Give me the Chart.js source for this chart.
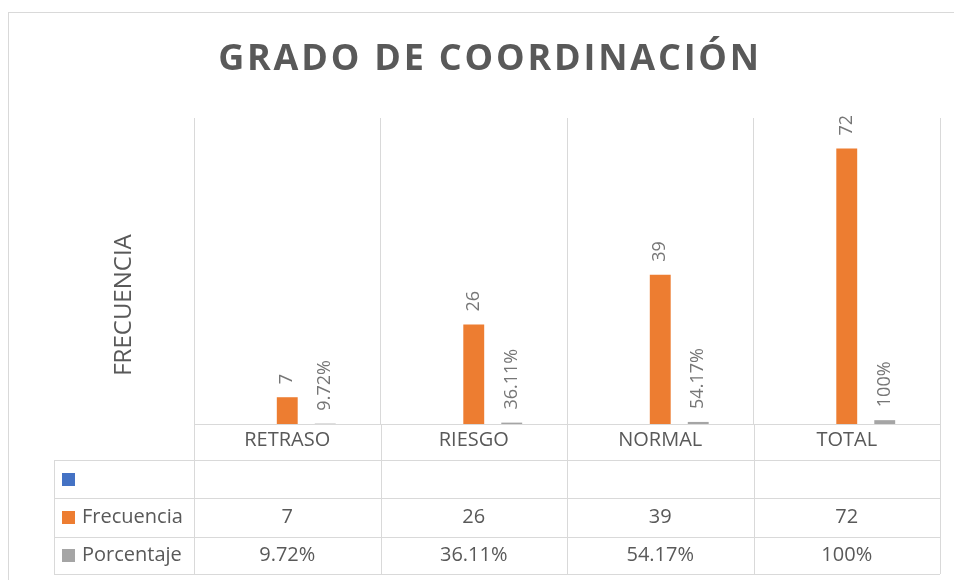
<!DOCTYPE html>
<html lang="es">
<head>
<meta charset="utf-8">
<title>Grado de coordinación</title>
<script src="https://cdn.jsdelivr.net/npm/chart.js@4.4.1/dist/chart.umd.min.js"></script>
<style>
  html, body { margin: 0; padding: 0; background: #fff; }
  #wrap { width: 954px; height: 580px; }
</style>
</head>
<body>
<div id="wrap"><canvas id="chart-coordinacion" width="954" height="580"></canvas></div>
<script>
// datos del gráfico
const categories = ["RETRASO", "RIESGO", "NORMAL", "TOTAL"];
const serieVacia = [null, null, null, null];
const frecuencia = [7, 26, 39, 72];
const porcentaje = [0.0972, 0.3611, 0.5417, 1];
const seriesNames = ["", "Frecuencia", "Porcentaje"];
const yMax = 80;

const TEXT = "#595959";
const LINE = "#d9d9d9";
const COLORS = ["#4472c4", "#ed7d31", "#a5a5a5"];
const FONT = "'Open Sans', 'DejaVu Sans', sans-serif";

function fmtPct(v) { return +(v * 100).toFixed(2) + "%"; }
function fmtCell(ds, v) {
    if (v === null || v === undefined) { return ""; }
    return ds === 2 ? fmtPct(v) : String(v);
}

// rótulos rotados encima de cada barra
const barLabels = {
    id: "barLabels",
    afterDatasetsDraw(chart) {
        const ctx = chart.ctx;
        ctx.save();
        ctx.fillStyle = "#767676";
        ctx.font = `18px ${FONT}`;
        ctx.textAlign = "left";
        ctx.textBaseline = "middle";
        chart.data.datasets.forEach((ds, di) => {
            const meta = chart.getDatasetMeta(di);
            meta.data.forEach((bar, i) => {
                const v = ds.data[i];
                if (v === null) { return; }
                ctx.save();
                ctx.translate(bar.x, bar.y - 13);
                ctx.rotate(-Math.PI / 2);
                ctx.fillText(fmtCell(di, v), 0, 0);
                ctx.restore();
            });
        });
        ctx.restore();
    }
};

// título, título del eje, marco y tabla de datos
const decor = {
    id: "decor",
    afterDraw(chart) {
        const ctx = chart.ctx;
        const area = chart.chartArea;
        const n = categories.length;
        const colW = (area.right - area.left) / n;
        const rows = [area.bottom, 460, 498, 537, 574];
        const tableLeft = 54;

        ctx.save();
        // marco exterior
        ctx.strokeStyle = LINE;
        ctx.lineWidth = 1;
        ctx.strokeRect(8.5, 12.5, 960, 600);

        // título
        ctx.fillStyle = TEXT;
        ctx.font = `bold 36px ${FONT}`;
        ctx.letterSpacing = "2.8px";
        ctx.textAlign = "center";
        ctx.textBaseline = "middle";
        ctx.fillText("GRADO DE COORDINACIÓN", 490, 60);
        ctx.letterSpacing = "0px";

        // título del eje vertical
        ctx.save();
        ctx.translate(124, 305);
        ctx.rotate(-Math.PI / 2);
        ctx.font = `24px ${FONT}`;
        ctx.fillText("FRECUENCIA", 0, 0);
        ctx.restore();

        // líneas de la tabla
        ctx.beginPath();
        for (let r = 1; r < rows.length; r++) {
            ctx.moveTo(tableLeft, rows[r] + 0.5);
            ctx.lineTo(area.right, rows[r] + 0.5);
        }
        ctx.moveTo(tableLeft + 0.5, rows[1]);
        ctx.lineTo(tableLeft + 0.5, rows[4]);
        for (let i = 0; i <= n; i++) {
            const x = Math.round(area.left + i * colW) + 0.5;
            ctx.moveTo(x, area.bottom);
            ctx.lineTo(x, rows[4]);
        }
        ctx.stroke();

        // filas de series
        ctx.font = `20px ${FONT}`;
        chart.data.datasets.forEach((ds, di) => {
            const yc = (rows[di + 1] + rows[di + 2]) / 2;
            ctx.fillStyle = COLORS[di];
            ctx.fillRect(62, Math.round(yc - 6.5), 13, 13);
            ctx.fillStyle = TEXT;
            ctx.textAlign = "left";
            ctx.fillText(seriesNames[di], 82, yc);
            ctx.textAlign = "center";
            ds.data.forEach((v, i) => {
                ctx.fillText(fmtCell(di, v), area.left + (i + 0.5) * colW, yc);
            });
        });
        ctx.restore();
    }
};

new Chart(document.getElementById("chart-coordinacion").getContext("2d"), {
    type: "bar",
    data: {
        labels: categories,
        datasets: [
            { label: seriesNames[0], data: serieVacia, backgroundColor: COLORS[0] },
            { label: seriesNames[1], data: frecuencia, backgroundColor: COLORS[1] },
            { label: seriesNames[2], data: porcentaje, backgroundColor: COLORS[2] },
        ],
    },
    options: {
        responsive: false,
        animation: false,
        layout: { padding: { left: 194, top: 118, right: 14, bottom: 0 } },
        datasets: { bar: { categoryPercentage: 0.611, barPercentage: 0.55 } },
        plugins: { legend: { display: false }, tooltip: { enabled: false } },
        scales: {
            x: {
                afterFit: s => { s.height = 156; },
                grid: { color: LINE, drawTicks: false, offset: true },
                border: { color: LINE },
                ticks: { color: TEXT, font: { family: FONT, size: 20 }, padding: 4, maxRotation: 0 },
            },
            y: { display: false, min: 0, max: yMax },
        },
    },
    plugins: [barLabels, decor],
});
</script>
</body>
</html>
